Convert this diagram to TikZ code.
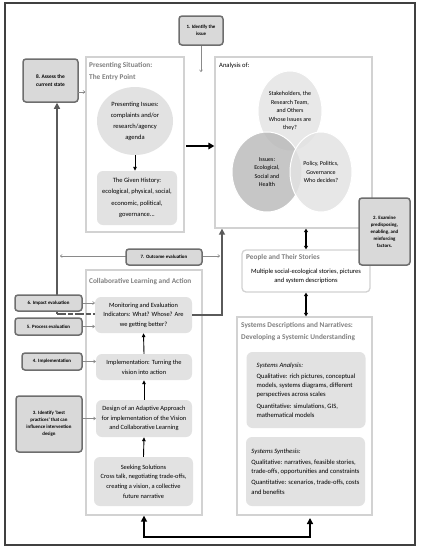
\documentclass[tikz,border=0pt]{standalone}
\usepackage{fontspec}
\setmainfont{Carlito}
\usetikzlibrary{arrows.meta,shapes.geometric,backgrounds}
\definecolor{framegray}{HTML}{D2D2D2}
\definecolor{taggray}{HTML}{6E6E6E}
\definecolor{tagfill}{HTML}{D9D9D9}
\definecolor{softfill}{HTML}{E2E2E2}
\definecolor{titlegray}{HTML}{808080}
\definecolor{arrowgray}{HTML}{8A8A8A}
\definecolor{linkgray}{HTML}{5A5A5A}
\newcommand\bodyfont{\fontsize{6.4}{9.6}\selectfont}
\tikzset{
  frame/.style={draw=framegray, line width=1.3pt, fill=white},
  tagbox/.style={draw=taggray, line width=1.5pt, fill=tagfill, rounded corners=3pt,
    font=\fontsize{4.9}{7}\selectfont\bfseries, align=center, inner sep=1pt},
  softbox/.style={fill=softfill, rounded corners=6pt, align=center, font=\bodyfont, inner sep=2pt},
  ttl/.style={text=titlegray, font=\fontsize{7.3}{12}\selectfont\bfseries, align=left,
    anchor=north west, inner sep=0pt},
  venn/.style={ellipse, draw=white, line width=1pt, align=center, font=\fontsize{6}{8.6}\selectfont, inner sep=0pt},
  tagarrow/.style={draw=arrowgray, line width=0.6pt, -{To[length=2.5pt,width=3.5pt]}},
  steparrow/.style={line width=0.9pt, -{Triangle[length=4pt,width=3.5pt]}},
  linkarrow/.style={draw=linkgray, line width=2pt, -{Triangle[length=6pt,width=6pt]}},
  bigarrow/.style={line width=2pt, {Triangle[length=6pt,width=6pt]}-{Triangle[length=6pt,width=6pt]}},
  twoway/.style={line width=1.2pt, {Triangle[length=3.5pt,width=4pt]}-{Triangle[length=3.5pt,width=4pt]}}
}
\begin{document}
\begin{tikzpicture}[x=1pt,y=-1pt]
\useasboundingbox (0,0) rectangle (421,550);
\draw[draw=black!75, line width=1.2pt] (5,3) rectangle (415,545);

% entry point
\node[frame, minimum width=98, minimum height=175] (pres) at (135,144.5) {};
\node[ttl] (prest) at (89,62) {Presenting Situation:\\The Entry Point};
\node[ellipse, fill=softfill, minimum width=76, minimum height=68, align=center,
  font=\fontsize{6.5}{11}\selectfont, inner sep=0pt] (pi) at (135,121)
  {Presenting Issues:\\complaints and/or\\research/agency\\agenda};
\node[softbox, minimum width=80, minimum height=54, font=\fontsize{6.5}{11.5}\selectfont] (gh) at (137,198)
  {The Given History:\\ecological, physical, social,\\economic, political,\\governance...};

% analysis
\node[frame, minimum width=157, minimum height=171] (ana) at (293.5,142.5) {};
\node[anchor=north west, inner sep=0pt, font=\fontsize{6.6}{8}\selectfont] (anat) at (219,63) {Analysis of:};
\node[venn, fill=black!9, minimum width=64, minimum height=80] (stk) at (290,111)
  {Stakeholders, the\\Research Team,\\and Others\\Whose Issues are\\they?};
\node[venn, fill=black!28, fill opacity=.8, text opacity=1, minimum width=70, minimum height=80] (iss) at (267,172)
  {Issues:\\Ecological,\\Social and\\Health};
\node[venn, fill=black!11, fill opacity=.85, text opacity=1, minimum width=62, minimum height=80] (pol) at (321,172)
  {Policy, Politics,\\Governance\\Who decides?};

% stories and systems
\node[frame, rounded corners=4pt, minimum width=128, minimum height=42] (ppl) at (306,271) {};
\node[ttl] (pplt) at (246,254) {People and Their Stories};
\node[font=\fontsize{6.5}{9}\selectfont, align=center, inner sep=0pt] (pplx) at (306,276)
  {Multiple social-ecological stories, pictures\\and system descriptions};
\node[frame, minimum width=135, minimum height=198] (sys) at (304.5,416) {};
\node[ttl] (syst) at (241,322) {Systems Descriptions and Narratives:\\Developing a Systemic Understanding};
\node[softbox, align=left, minimum width=119, minimum height=76, inner xsep=4pt,
  font=\fontsize{6.6}{9.2}\selectfont] (sysa) at (306,390)
  {\textit{Systems Analysis:}\\[2pt]
   Qualitative: rich pictures, conceptual\\models, systems diagrams, different\\perspectives across scales\\[2pt]
   Quantitative: simulations, GIS,\\mathematical models};
\node[softbox, align=left, minimum width=119, minimum height=69, inner xsep=4pt,
  font=\fontsize{6.6}{9.2}\selectfont] (syss) at (305.5,471.5)
  {\textit{Systems Synthesis:}\\[2pt]
   Qualitative: narratives, feasible stories,\\trade-offs, opportunities and constraints\\[2pt]
   Quantitative: scenarios, trade-offs, costs\\and benefits};

% collaborative learning
\node[frame, minimum width=116, minimum height=245] (col) at (144,392.5) {};
\node[ttl] (colt) at (89,278) {Collaborative Learning and Action};
\node[softbox, minimum width=97, minimum height=36] (mon) at (143.5,315)
  {Monitoring and Evaluation\\Indicators: What? Whose? Are\\we getting better?};
\node[softbox, minimum width=96, minimum height=26] (imp) at (144,367)
  {Implementation: Turning the\\vision into action};
\node[softbox, minimum width=96, minimum height=37] (des) at (144,418.5)
  {Design of an Adaptive Approach\\for implementation of the Vision\\and Collaborative Learning};
\node[softbox, minimum width=99, minimum height=49] (sk) at (143.5,481.5)
  {Seeking Solutions\\Cross talk, negotiating trade-offs,\\creating a vision, a collective\\future narrative};

% numbered steps
\node[tagbox, minimum width=44, minimum height=29] (s1) at (201,30.5) {1. Identify the\\issue};
\node[tagbox, minimum width=51, minimum height=67] (s2) at (384.5,231.5)
  {2. Examine\\predisposing,\\enabling, and\\reinforcing\\factors.};
\node[tagbox, minimum width=66, minimum height=56] (s3) at (49,424)
  {3. Identify `best\\practices' that can\\influence intervention\\design};
\node[tagbox, minimum width=60, minimum height=17] (s4) at (52,361.5) {4. Implementation};
\node[tagbox, minimum width=67, minimum height=17] (s5) at (48.5,326.5) {5. Process evaluation};
\node[tagbox, minimum width=67, minimum height=16] (s6) at (48.5,303) {6. Impact evaluation};
\node[tagbox, minimum width=76, minimum height=16] (s7) at (164,257) {7. Outcome evaluation};
\node[tagbox, minimum width=55, minimum height=43, font=\fontsize{5.4}{8}\selectfont\bfseries] (s8) at (50.5,80.5)
  {8.\ Assess the\\current state};

% connectors
\coordinate (jl) at (57,314);
\coordinate (jr) at (222,315);
\coordinate (o7l) at (60,256);
\coordinate (o7r) at (220,256);
\coordinate (e8) at (78,92);
\coordinate (pa) at (186,146);
\coordinate (t1) at (201,72);
\begin{scope}[on background layer]
\draw[linkarrow] (jl) -- (jl |- s8.south);
\draw[draw=arrowgray, line width=0.6pt, {To[length=2.5pt,width=3.5pt]}-{To[length=2.5pt,width=3.5pt]}] (o7l) -- (o7r);
\end{scope}
\draw[draw=linkgray, line width=2pt, dash pattern=on 9pt off 2pt on 5pt off 2pt] (jl) -- (jl -| mon.west);
\draw[linkarrow] (mon.east |- jr) -- (jr) -- (jr |- ana.south);
\draw[tagarrow] (s1.south) -- (t1);
\draw[tagarrow] (e8) -- (e8 -| pres.west);
\draw[tagarrow] (s6.east) -- (s6.east -| mon.west);
\draw[tagarrow] (s5.east) -- (s5.east -| mon.west);
\draw[tagarrow] (s4.east) -- (s4.east -| imp.west);
\draw[tagarrow] (des.west -| s3.east) -- (des.west);
\draw[line width=2.2pt, -{Triangle[length=6pt,width=6.5pt]}] (pa) -- (pa -| ana.west);
\draw[steparrow] (pi.south) -- (pi.south |- gh.north);
\draw[steparrow] (sk.north) -- (des.south);
\draw[steparrow] (des.north) -- (imp.south);
\draw[steparrow] (imp.north) -- (mon.south);
\draw[twoway] (ppl.north |- ana.south) -- (ppl.north);
\draw[twoway] (ppl.south) -- (ppl.south |- sys.north);
\draw[bigarrow] (col.south) -- (col.south |- 0,537) -| (310,518);
\end{tikzpicture}
\end{document}
